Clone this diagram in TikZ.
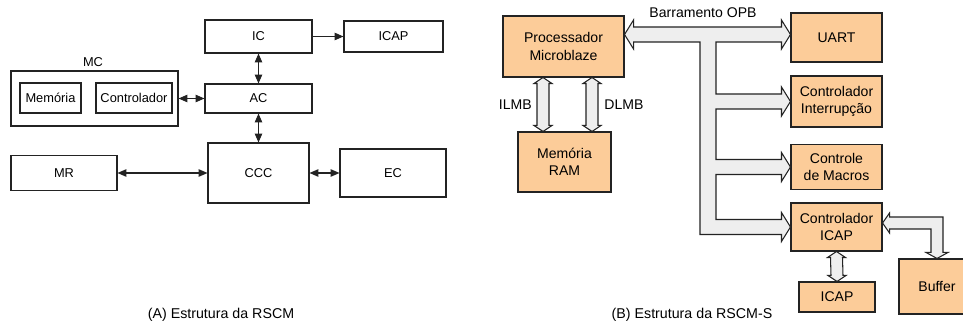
\documentclass[tikz,border=0pt]{standalone}
\usepackage{fontspec}
\setmainfont{Liberation Sans}
\usetikzlibrary{arrows.meta,calc}
\definecolor{blkfill}{RGB}{252,204,153}
\definecolor{busfill}{RGB}{238,238,238}
\definecolor{ink}{RGB}{35,35,35}

% vertical fat bus arrow, tip to tip: #1 upper tip, #2 lower tip
\newcommand\vbus[2]{%
  \filldraw[fat] (#1) -- ++(9,6) -- ++(-3,0) -- ($(#2)+(6,-6)$) -- ++(3,0)
    -- (#2) -- ++(-9,-6) -- ++(3,0) -- ($(#1)+(-6,6)$) -- ++(-3,0) -- cycle;}

\begin{document}
\begin{tikzpicture}[x=0.02cm, y=-0.02cm,
    >={Triangle[length=5pt, width=4.2pt]},
    box/.style={draw=ink, line width=0.6pt, inner sep=0pt, align=center,
                font=\fontsize{7.3}{8.8}\selectfont},
    blk/.style={draw=ink, fill=blkfill, line width=0.6pt, inner sep=0pt,
                align=center, font=\fontsize{8}{9.9}\selectfont},
    lnk/.style={line width=0.6pt, draw=ink},
    fat/.style={draw=ink, fill=busfill, line width=0.6pt, line join=miter},
    lab/.style={inner sep=0pt, font=\fontsize{8}{9.9}\selectfont},
    capt/.style={inner sep=0pt, font=\fontsize{8.1}{9.9}\selectfont}]
  \def\px{0.02cm}
  \useasboundingbox (0,0) rectangle (963,323);

  % ---------- (A) RSCM ----------------------------------------------------
  \node[box, minimum width=107*\px, minimum height=33*\px] (ic)    at (258.5,36.5) {IC};
  \node[box, minimum width=99*\px,  minimum height=31*\px] (icapa) at (393.5,36.5) {ICAP};
  \node[box, minimum width=107*\px, minimum height=29*\px] (ac)    at (258.5,98.5) {AC};
  \node[box, minimum width=167*\px, minimum height=55*\px] (mc)    at (94.5,98.5)  {};
  \node[box, draw=none] (mclab) at (93,62) {MC};
  \node[box, minimum width=61*\px,  minimum height=30*\px] (mem)   at (50.5,98)    {Memória};
  \node[box, minimum width=76*\px,  minimum height=30*\px] (ctl)   at (134,98)     {Controlador};
  \node[box, minimum width=101*\px, minimum height=60*\px] (ccc)   at (258.5,173)  {CCC};
  \node[box, minimum width=106*\px, minimum height=35*\px] (mr)    at (64,173)     {MR};
  \node[box, minimum width=106*\px, minimum height=48*\px] (ec)    at (393,173)    {EC};

  \draw[lnk, ->]  (ic) -- (icapa);
  \draw[lnk, <->] (ic) -- (ac);
  \draw[lnk, <->] (mc) -- (ac);
  \draw[lnk, <->] (ac) -- (ccc);
  \draw[lnk, <->] (mr) -- (ccc);
  \draw[lnk, <->] (ccc) -- (ec);

  \node[capt] (capa) at (221,315) {(A) Estrutura da RSCM};

  % ---------- (B) RSCM-S --------------------------------------------------
  \node[blk, minimum width=121*\px, minimum height=61*\px] (proc)  at (563.5,46.5) {Processador\\Microblaze};
  \node[blk, minimum width=93*\px,  minimum height=60*\px] (ram)   at (564.5,162)  {Memória\\RAM};
  \node[blk, minimum width=91*\px,  minimum height=49*\px] (uart)  at (836.5,37.5) {UART};
  \node[blk, minimum width=91*\px,  minimum height=51*\px] (irq)   at (836.5,101.5) {Controlador\\Interrupção};
  \node[blk, minimum width=91*\px,  minimum height=45*\px] (mac)   at (836.5,167)  {Controle\\de Macros};
  \node[blk, minimum width=91*\px,  minimum height=48*\px] (icapc) at (836.5,227)  {Controlador\\ICAP};
  \node[blk, minimum width=76*\px,  minimum height=30*\px] (icapb) at (837,297)    {ICAP};
  \node[blk, minimum width=76*\px,  minimum height=55*\px] (buf)   at (937,286.5)  {Buffer};

  \coordinate (opb)  at (0,34.5);
  \coordinate (trk)  at (708,0);
  \coordinate (ilmb) at (543,0);
  \coordinate (dlmb) at (592,0);
  \coordinate (bufy) at (0,223);

  % OPB bus with its branches
  \filldraw[fat] (proc.east |- opb) -- ++(9,-14.5) -- ++(0,7)
    -- ($(uart.west |- opb)+(-9,-7.5)$) -- ++(0,-7) -- (uart.west |- opb)
    -- ++(-9,14.5) -- ++(0,-7) -- ($(trk |- opb)+(8,7.5)$)
    -- ($(trk |- irq.west)+(8,-7.5)$) -- ($(irq.west)+(-9,-7.5)$) -- ++(0,-7)
    -- (irq.west) -- ++(-9,14.5) -- ++(0,-7) -- ($(trk |- irq.west)+(8,7.5)$)
    -- ($(trk |- mac.west)+(8,-7.5)$) -- ($(mac.west)+(-9,-7.5)$) -- ++(0,-7)
    -- (mac.west) -- ++(-9,14.5) -- ++(0,-7) -- ($(trk |- mac.west)+(8,7.5)$)
    -- ($(trk |- icapc.west)+(8,-7.5)$) -- ($(icapc.west)+(-9,-7.5)$) -- ++(0,-7)
    -- (icapc.west) -- ++(-9,14.5) -- ++(0,-7) -- ($(trk |- icapc.west)+(-8,7.5)$)
    -- ($(trk |- opb)+(-8,7.5)$) -- ($(proc.east |- opb)+(9,7.5)$) -- ++(0,7) -- cycle;
  \node[lab] (opblab) at (703,13) {Barramento OPB};

  % local memory buses
  \vbus{ilmb |- proc.south}{ilmb |- ram.north}
  \vbus{dlmb |- proc.south}{dlmb |- ram.north}
  \node[lab, anchor=east] (ilmblab) at (532,105) {ILMB};
  \node[lab, anchor=west] (dlmblab) at (604,105) {DLMB};

  % ICAP and buffer links
  \vbus{icapc.south}{icapb.north}
  \filldraw[fat] (icapc.east |- bufy) -- ++(7,-10) -- ++(0,4)
    -| ($(buf.north)+(6,-6)$) -- ++(5,0) -- (buf.north) -- ++(-11,-6) -- ++(5,0)
    |- ($(icapc.east |- bufy)+(7,6)$) -- ++(0,4) -- cycle;

  \node[capt] (capb) at (692,315) {(B) Estrutura da RSCM-S};
\end{tikzpicture}
\end{document}
